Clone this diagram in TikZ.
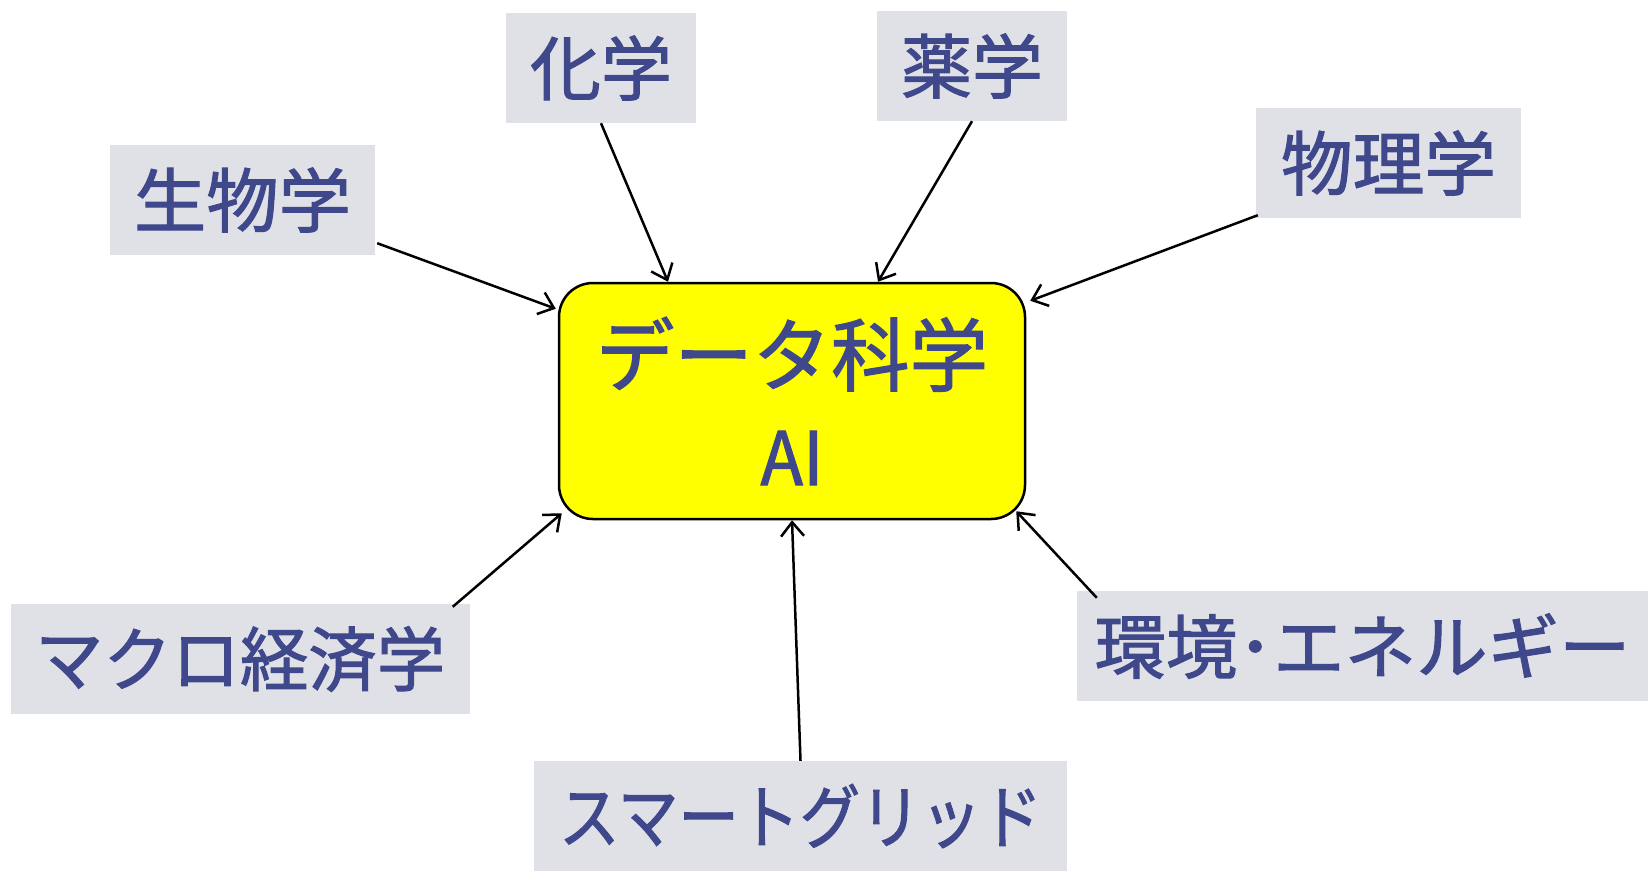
\documentclass[tikz,border=0pt]{standalone}
\usepackage{fontspec}
\usepackage{graphicx}
\setmainfont{Noto Sans CJK JP}[FakeBold=1.5]
\usetikzlibrary{arrows.meta,calc}
\definecolor{txtc}{RGB}{64,72,140}
\definecolor{lblc}{RGB}{224,225,231}
\definecolor{corec}{RGB}{255,255,0}
\newcommand{\fitw}[2]{\resizebox{#1}{\height}{#2}}
\begin{document}
\begin{tikzpicture}[x=1pt,y=-1pt,
  lab/.style={fill=lblc, text=txtc, inner sep=0pt, minimum height=110pt,
    font=\fontsize{70}{84}\selectfont},
  arr/.style={line width=2.5pt, -{Straight Barb[length=14pt,width=23pt]}},
  core/.style={draw=black, line width=2.5pt, fill=corec, rounded corners=34pt,
    minimum width=466pt, minimum height=236pt, inner sep=0pt, text=txtc, align=center,
    font=\fontsize{80}{100}\selectfont}]
\useasboundingbox (0,0) rectangle (1648,871);

\node[core] (ai) at (792,401)
  {\fitw{392pt}{データ科学}\\{\fontsize{74}{100}\selectfont\fitw{63pt}{AI}}};

\node[lab, minimum width=265pt] (bio)   at (242.5,200) {\fitw{217pt}{生物学}};
\node[lab, minimum width=190pt] (chem)  at (601,68)    {\fitw{142pt}{化学}};
\node[lab, minimum width=190pt] (pharm) at (972,66)    {\fitw{142pt}{薬学}};
\node[lab, minimum width=265pt] (phys)  at (1388.5,163) {\fitw{215pt}{物理学}};
\node[lab, minimum width=459pt] (macro) at (240,659)   {\fitw{410pt}{マクロ経済学}};
\node[lab, minimum width=571pt] (env)   at (1362.5,646) {\fitw{536pt}{環境･エネルギー}};
\node[lab, minimum width=533pt] (smart) at (800.5,816) {\fitw{483pt}{スマートグリッド}};

\draw[arr] ($(bio.south east)+(2,-12)$) -- ($(ai.north west)+(-2,27)$);
\draw[arr] (chem.south) -- ($(ai.north)+(-124,0)$);
\draw[arr] (pharm.south) -- ($(ai.north)+(86,0)$);
\draw[arr] ($(phys.south west)+(2,-3)$) -- ($(ai.north east)+(4,19)$);
\draw[arr] ($(macro.north east)+(-17,3)$) -- ($(ai.south west)+(4,-7)$);
\draw[arr] ($(env.north west)+(20,7)$) -- ($(ai.south east)+(-10,-9)$);
\draw[arr] (smart.north) -- (ai.south);
\end{tikzpicture}
\end{document}
